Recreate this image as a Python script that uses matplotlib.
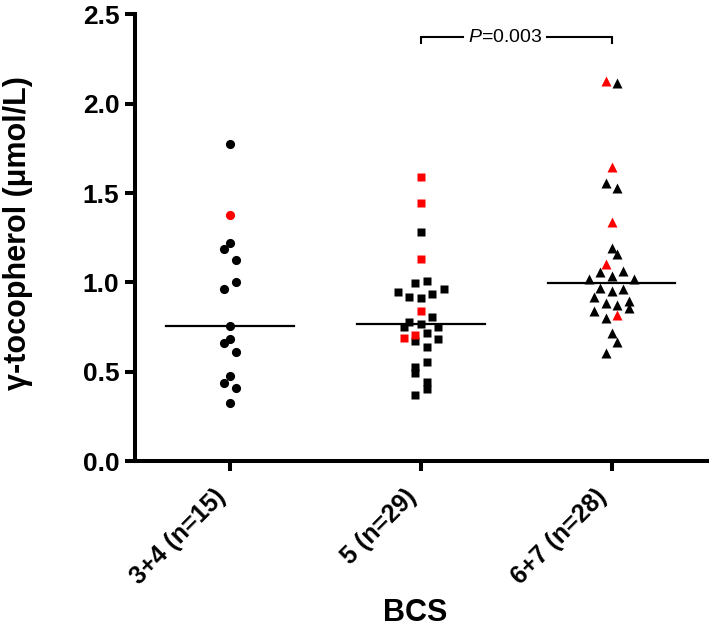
import numpy as np
import matplotlib
matplotlib.use('Agg')
import matplotlib.pyplot as plt

# ============= Data
groups = ['3+4 (n=15)', '5 (n=29)', '6+7 (n=28)']
markers = ['o', 's', '^']

vals_g1 = [1.774, 1.377, 1.222, 1.187, 1.126, 1.005, 0.962, 0.759, 0.684,
           0.660, 0.614, 0.479, 0.437, 0.409, 0.325]
slot_g1 = [0, 0, 0, -1, 1, 1, -1, 0, 0, -1, 1, 0, -1, 1, 0]
red_g1 = [0, 1, 0, 0, 0, 0, 0, 0, 0, 0, 0, 0, 0, 0, 0]

vals_g2 = [1.588, 1.446, 1.282, 1.133, 0.995, 1.007, 0.947, 0.964, 0.917,
           0.915, 0.934, 0.842, 0.809, 0.781, 0.770, 0.750, 0.751, 0.692,
           0.707, 0.673, 0.720, 0.686, 0.638, 0.556, 0.530, 0.493, 0.446,
           0.403, 0.370]
slot_g2 = [0, 0, 0, 0, -1, 1, -4, 4, -2, 0, 2, 0, 2, -2, 0, -3, 3, -3,
           -1, -1, 1, 3, 1, 1, -1, -1, 1, 1, -1]
red_g2 = [1, 1, 0, 1, 0, 0, 0, 0, 0, 0, 0, 1, 0, 0, 0, 0, 0, 1, 1, 0, 0,
          0, 0, 0, 0, 0, 0, 0, 0]

vals_g3 = [2.126, 2.116, 1.647, 1.554, 1.530, 1.340, 1.191, 1.158, 1.102,
           1.057, 1.064, 1.036, 1.018, 1.018, 0.971, 0.954, 0.964, 0.921,
           0.887, 0.874, 0.897, 0.859, 0.842, 0.802, 0.818, 0.720, 0.669,
           0.608]
slot_g3 = [-1, 1, 0, -1, 1, 0, 0, 1, -1, -2, 2, 0, -4, 4, -2, 0, 2, -3,
           -1, 1, 3, 3, -3, -1, 1, 0, 1, -1]
red_g3 = [1, 0, 1, 0, 0, 1, 0, 0, 1, 0, 0, 0, 0, 0, 0, 0, 0, 0, 0, 0, 0,
          0, 0, 0, 1, 0, 0, 0]

p_text = '$P$=0.003'

# ============= Style
plt.rcParams['font.family'] = 'Liberation Sans'
plt.rcParams['mathtext.fontset'] = 'custom'
plt.rcParams['mathtext.it'] = 'Liberation Sans:italic'
plt.rcParams['mathtext.rm'] = 'Liberation Sans'

fig = plt.figure(figsize=(7.09, 6.40), dpi=100)
ax = fig.add_axes([0.190, 0.279, 0.807, 0.699])

step = 0.03
for i, (vals, slots, reds) in enumerate([(vals_g1, slot_g1, red_g1),
                                         (vals_g2, slot_g2, red_g2),
                                         (vals_g3, slot_g3, red_g3)]):
    vals = np.array(vals)
    xs = i + 1 + np.array(slots) * step
    reds = np.array(reds, dtype=bool)
    ms = 6.6 if markers[i] != 's' else 6.0
    ax.plot(xs[~reds], vals[~reds], linestyle='none', marker=markers[i],
            ms=ms, color='black', mec='none', zorder=3)
    ax.plot(xs[reds], vals[reds], linestyle='none', marker=markers[i],
            ms=ms, color='red', mec='none', zorder=4)
    med = np.median(vals)
    ax.plot([i + 1 - 0.335, i + 1 + 0.335], [med, med], color='black',
            lw=1.6, zorder=2)

# significance bracket
ax.plot([2, 2, 2.22], [2.34, 2.37, 2.37], color='black', lw=1.5,
        solid_joinstyle='miter')
ax.plot([2.66, 3, 3], [2.37, 2.37, 2.34], color='black', lw=1.5,
        solid_joinstyle='miter')
ax.text(2.44, 2.37, p_text, ha='center', va='center', fontsize=14)

ax.set_xlim(0.5, 3.5)
ax.set_ylim(0, 2.5)
ax.set_xticks([1, 2, 3])
ax.set_xticklabels(groups, rotation=45, ha='right', fontsize=18,
                   fontweight='bold')
ax.set_yticks(np.arange(0, 2.51, 0.5))
ax.set_yticklabels(['%.1f' % v for v in np.arange(0, 2.51, 0.5)],
                   fontsize=19, fontweight='bold')

for s in ['top', 'right']:
    ax.spines[s].set_visible(False)
for s in ['left', 'bottom']:
    ax.spines[s].set_linewidth(2.9)
    ax.spines[s].set_capstyle('projecting')
ax.tick_params(axis='both', width=2.9, length=7, direction='out')
ax.tick_params(axis='y', pad=4)
ax.tick_params(axis='x', pad=10)

ax.set_ylabel('\u03b3-tocopherol (\u03bcmol/L)', fontsize=22,
              fontweight='bold')
ax.yaxis.set_label_coords(-0.178, 0.51)
ax.set_xlabel('BCS', fontsize=22, fontweight='bold')
ax.xaxis.set_label_coords(0.49, -0.305)

fig.savefig('out.png', dpi=100)
